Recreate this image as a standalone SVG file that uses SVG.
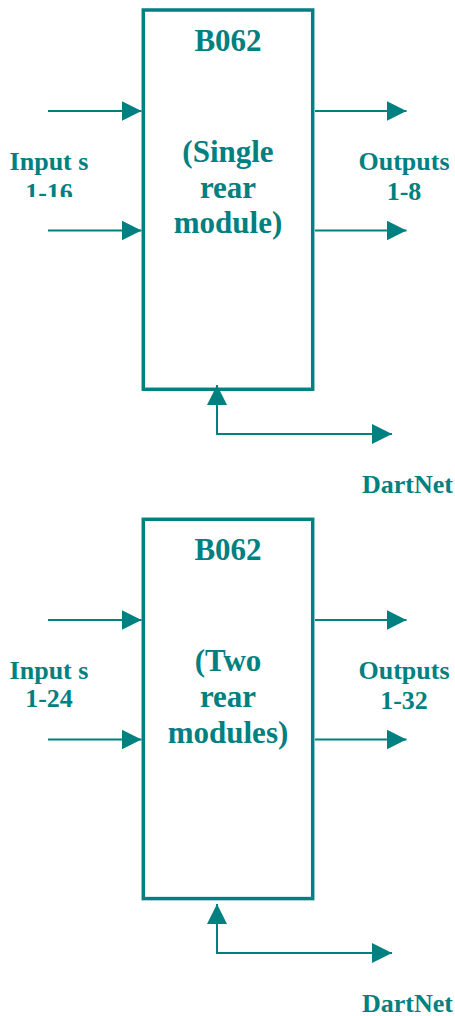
<svg xmlns="http://www.w3.org/2000/svg" width="455" height="1016" viewBox="0 0 455 1016">
<style>
.box{fill:none;stroke:#008080;stroke-width:3.5}
.ln{fill:none;stroke:#008080;stroke-width:2}
.t{font-family:"Liberation Serif","Times New Roman",serif;font-weight:bold;fill:#008080;text-anchor:middle}
.big{font-size:31px}
.lab{font-size:26px}
</style>
<defs>
<marker id="ah" markerUnits="userSpaceOnUse" markerWidth="21" markerHeight="21" refX="20" refY="10" orient="auto-start-reverse"><path d="M0,0 L20,10 L0,20 Z" fill="#008080"/></marker>
<clipPath id="clip1"><rect x="0" y="0" width="120" height="197"/></clipPath>
</defs>
<rect width="455" height="1016" fill="#fff"/>
<g id="connectors">
<line class="ln" x1="48" y1="111" x2="141.5" y2="111" marker-end="url(#ah)"/>
<line class="ln" x1="48" y1="230.5" x2="141.5" y2="230.5" marker-end="url(#ah)"/>
<line class="ln" x1="315" y1="111" x2="406.5" y2="111" marker-end="url(#ah)"/>
<line class="ln" x1="315" y1="230.5" x2="406.5" y2="230.5" marker-end="url(#ah)"/>
<path class="ln" d="M392,434 H217 V385" marker-start="url(#ah)" marker-end="url(#ah)"/>
<line class="ln" x1="48" y1="620" x2="141.5" y2="620" marker-end="url(#ah)"/>
<line class="ln" x1="48" y1="739.5" x2="141.5" y2="739.5" marker-end="url(#ah)"/>
<line class="ln" x1="315" y1="620" x2="406.5" y2="620" marker-end="url(#ah)"/>
<line class="ln" x1="315" y1="739.5" x2="406.5" y2="739.5" marker-end="url(#ah)"/>
<path class="ln" d="M392,953 H217 V904" marker-start="url(#ah)" marker-end="url(#ah)"/>
</g>
<g id="b062-single">
<rect class="box" x="143.3" y="10" width="169.4" height="379.3"/>
<text class="t big" x="228" y="51">B062</text>
<text class="t big" x="228" y="162">(Single</text>
<text class="t big" x="228" y="197.5">rear</text>
<text class="t big" x="228" y="233">module)</text>
</g>
<g id="inputs-1">
<text class="t lab" x="49" y="170">Input s</text>
<text class="t lab" x="49" y="201" clip-path="url(#clip1)">1-16</text>
</g>
<g id="outputs-1">
<text class="t lab" x="404" y="170">Outputs</text>
<text class="t lab" x="404" y="200">1-8</text>
</g>
<g id="dartnet-1">
<text class="t lab" x="407.5" y="492.5">DartNet</text>
</g>
<g id="b062-two">
<rect class="box" x="143.3" y="519.3" width="169.4" height="379.3"/>
<text class="t big" x="228" y="560">B062</text>
<text class="t big" x="228" y="671">(Two</text>
<text class="t big" x="228" y="707">rear</text>
<text class="t big" x="228" y="743">modules)</text>
</g>
<g id="inputs-2">
<text class="t lab" x="49" y="679">Input s</text>
<text class="t lab" x="49" y="707">1-24</text>
</g>
<g id="outputs-2">
<text class="t lab" x="404" y="679">Outputs</text>
<text class="t lab" x="404" y="709">1-32</text>
</g>
<g id="dartnet-2">
<text class="t lab" x="407.5" y="1011.5">DartNet</text>
</g>
</svg>
